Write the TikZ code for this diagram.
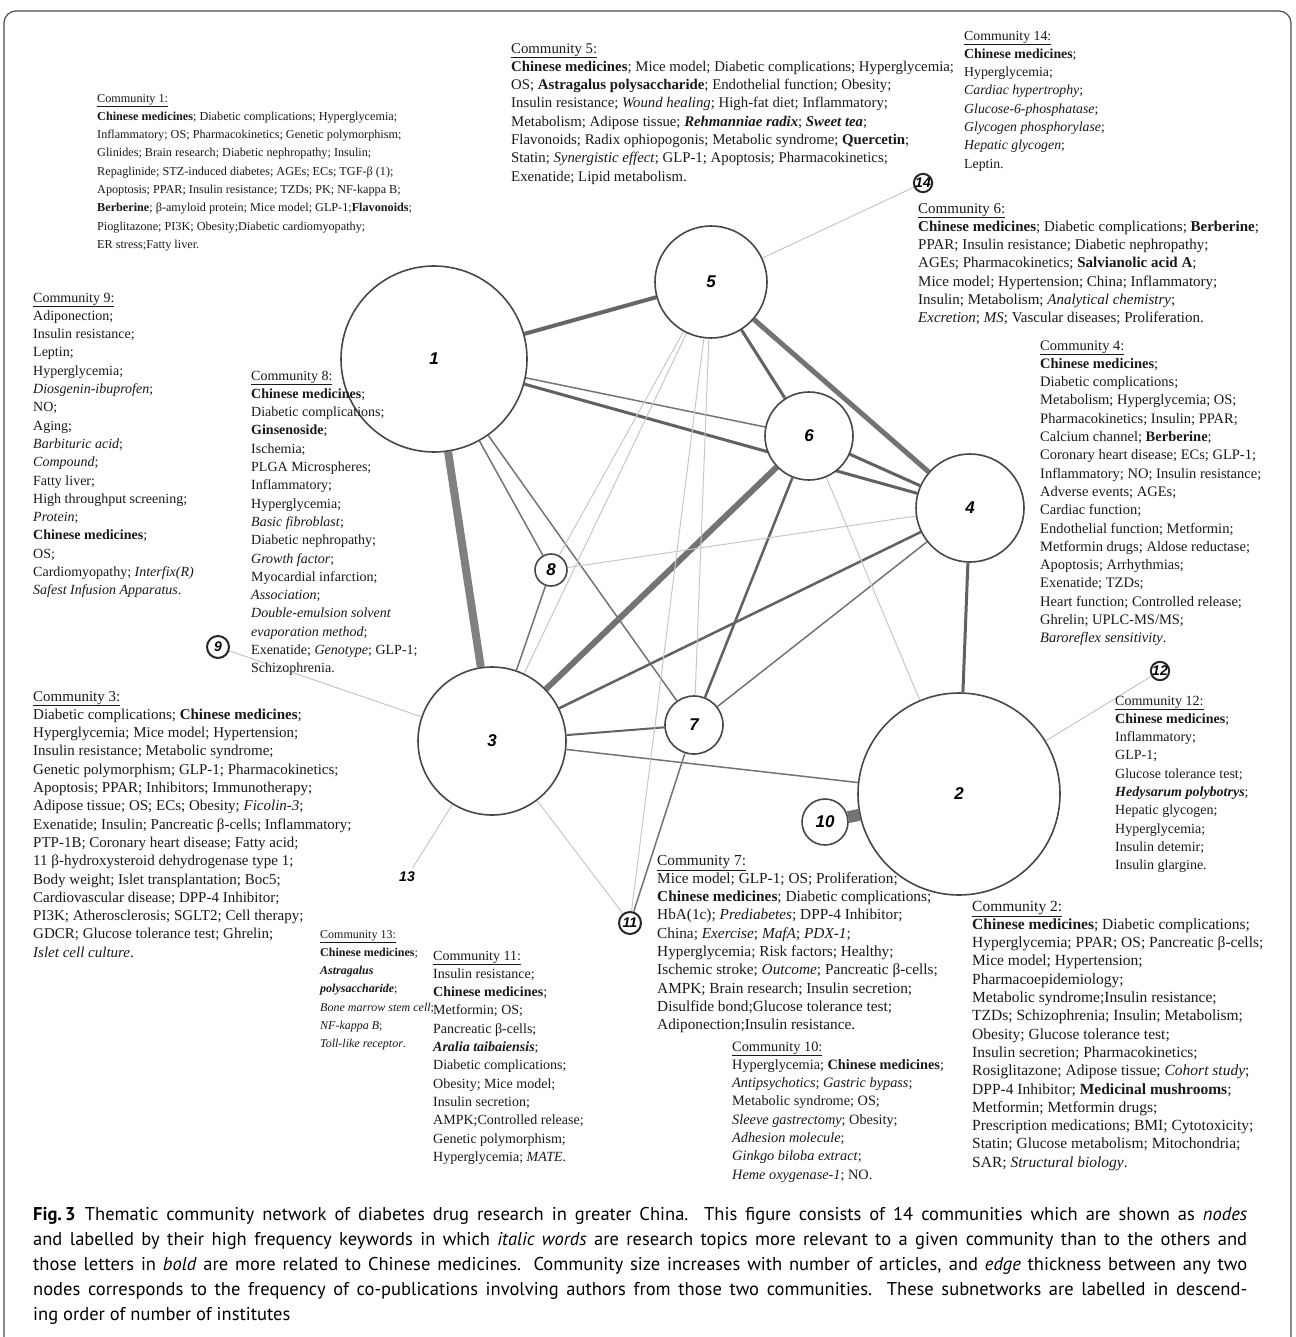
\documentclass[tikz,border=0pt]{standalone}
\usepackage{fontspec}
\setmainfont{Liberation Serif}
\newfontfamily\capfont{PT Sans}
\newfontfamily\numfont{Liberation Sans}
\usetikzlibrary{backgrounds}
\begin{document}
\begin{tikzpicture}[x=1pt,y=-1pt,
  comm/.style={circle, draw=black!72, line width=1.6pt, fill=white, inner sep=0pt, minimum size=#1,
    font=\numfont\bfseries\itshape\fontsize{17}{17}\selectfont},
  smallc/.style={circle, draw=black!85, line width=2pt, fill=white, inner sep=0pt, minimum size=#1,
    font=\numfont\bfseries\itshape\fontsize{14}{14}\selectfont},
  txt/.style={anchor=north west, align=left, inner sep=0pt, text=black!90,
    font=\fontsize{#1}{18.3}\selectfont},
  txt/.default=14,
  wA/.style={draw=black!50, line width=8pt},
  wB/.style={draw=black!55, line width=6pt},
  wC/.style={draw=black!55, line width=5pt},
  wD/.style={draw=black!60, line width=4pt},
  wE/.style={draw=black!62, line width=3pt},
  wF/.style={draw=black!62, line width=2.5pt},
  wG/.style={draw=black!62, line width=2pt},
  wH/.style={draw=black!55, line width=1.5pt},
  wL/.style={draw=black!22, line width=1pt},
]
\useasboundingbox (0,0) rectangle (1295,1337);
\draw[black!70, line width=1.2pt, rounded corners=12pt] (4,1350) -- (4,11) -- (1291,11) -- (1291,1350);

% community nodes
\node[comm=186pt] (n1) at (434,359) {1};
\node[comm=112pt] (n5) at (711,282) {5};
\node[comm=88pt] (n6) at (809,436) {6};
\node[comm=108pt] (n4) at (970,508) {4};
\node[comm=148pt] (n3) at (492,741) {3};
\node[comm=58pt] (n7) at (694,725) {7};
\node[comm=202pt] (n2) at (959,794) {2};
\node[comm=46pt] (n10) at (825,822) {10};
\node[comm=32pt] (n8) at (551,570) {8};
\node[smallc=22pt] (n9) at (218,647) {9};
\node[smallc=22pt] (n11) at (630,923) {11};
\node[smallc=18pt] (n12) at (1160,671) {12};
\node[smallc=16pt, draw=none, fill=none] (n13) at (407,877) {13};
\node[smallc=18pt] (n14) at (923,183) {14};

\begin{pgfonlayer}{background}
\draw[wA] (n1) -- (n3);
\draw[wB] (n6) -- (n3);
\draw[draw=black!55, line width=12pt] (n10) -- (n2);
\draw[wC] (n5) -- (n4);
\draw[wD] (n1) -- (n5);
\draw[wE] (n5) -- (n6);
\draw[wE] (n6) -- (n4);
\draw[wE] (n1) -- (n4);
\draw[wE] (n4) -- (n2);
\draw[wF] (n4) -- (n3);
\draw[wF] (n6) -- (n7);
\draw[wG] (n3) -- (n7);
\draw[wH] (n1) -- (n6);
\draw[wH] (n1) -- (n8);
\draw[wH] (n1) -- (n7);
\draw[wH] (n8) -- (n3);
\draw[wH] (n3) -- (n2);
\draw[wH] (n4) -- (n7);
\draw[wH] (n7) -- (n11);
\draw[wL] (n5) -- (n8);
\draw[wL] (n5) -- (n3);
\draw[wL] (n5) -- (n11);
\draw[wL] (n5) -- (n7);
\draw[wL] (n5) -- (n14);
\draw[wL] (n6) -- (n2);
\draw[wL] (n8) -- (n4);
\draw[wL] (n3) -- (n9);
\draw[wL] (n3) -- (n13);
\draw[wL] (n3) -- (n11);
\draw[wL] (n2) -- (n12);
\end{pgfonlayer}

% text blocks
\node[txt=12.2] (c1) at (97,89) {\strut\underline{Community 1:}\\
\textbf{Chinese medicines}; Diabetic complications; Hyperglycemia;\\
Inflammatory; OS; Pharmacokinetics; Genetic polymorphism;\\
Glinides; Brain research; Diabetic nephropathy; Insulin;\\
Repaglinide; STZ-induced diabetes; AGEs; ECs; TGF-β (1);\\
Apoptosis; PPAR; Insulin resistance; TZDs; PK; NF-kappa B;\\
\textbf{Berberine}; β-amyloid protein; Mice model; GLP-1;\textbf{Flavonoids};\\
Pioglitazone; PI3K; Obesity;Diabetic cardiomyopathy;\\
ER stress;Fatty liver.};

\node[txt=14.8] (c5) at (511,40) {\strut\underline{Community 5:}\\
\textbf{Chinese medicines}; Mice model; Diabetic complications; Hyperglycemia;\\
OS; \textbf{Astragalus polysaccharide}; Endothelial function; Obesity;\\
Insulin resistance; \textit{Wound healing}; High-fat diet; Inflammatory;\\
Metabolism; Adipose tissue; \textbf{\textit{Rehmanniae radix}}; \textbf{\textit{Sweet tea}};\\
Flavonoids; Radix ophiopogonis; Metabolic syndrome; \textbf{Quercetin};\\
Statin; \textit{Synergistic effect}; GLP-1; Apoptosis; Pharmacokinetics;\\
Exenatide; Lipid metabolism.};

\node[txt=13.8] (c14) at (964,27) {\strut\underline{Community 14:}\\
\textbf{Chinese medicines};\\
Hyperglycemia;\\
\textit{Cardiac hypertrophy};\\
\textit{Glucose-6-phosphatase};\\
\textit{Glycogen phosphorylase};\\
\textit{Hepatic glycogen};\\
Leptin.};

\node[txt=15] (c6) at (918,200) {\strut\underline{Community 6:}\\
\textbf{Chinese medicines}; Diabetic complications; \textbf{Berberine};\\
PPAR; Insulin resistance; Diabetic nephropathy;\\
AGEs; Pharmacokinetics; \textbf{Salvianolic acid A};\\
Mice model; Hypertension; China; Inflammatory;\\
Insulin; Metabolism; \textit{Analytical chemistry};\\
\textit{Excretion}; \textit{MS}; Vascular diseases; Proliferation.};

\node[txt] (c9) at (33,289) {\strut\underline{Community 9:}\\
Adiponection;\\
Insulin resistance;\\
Leptin;\\
Hyperglycemia;\\
\textit{Diosgenin-ibuprofen};\\
NO;\\
Aging;\\
\textit{Barbituric acid};\\
\textit{Compound};\\
Fatty liver;\\
High throughput screening;\\
\textit{Protein};\\
\textbf{Chinese medicines};\\
OS;\\
Cardiomyopathy; \textit{Interfix(R)}\\
\textit{Safest Infusion Apparatus}.};

\node[txt] (c8) at (251,367) {\strut\underline{Community 8:}\\
\textbf{Chinese medicines};\\
Diabetic complications;\\
\textbf{Ginsenoside};\\
Ischemia;\\
PLGA Microspheres;\\
Inflammatory;\\
Hyperglycemia;\\
\textit{Basic fibroblast};\\
Diabetic nephropathy;\\
\textit{Growth factor};\\
Myocardial infarction;\\
\textit{Association};\\
\textit{Double-emulsion solvent}\\
\textit{evaporation method};\\
Exenatide; \textit{Genotype}; GLP-1;\\
Schizophrenia.};

\node[txt=14.5] (c4) at (1040,337) {\strut\underline{Community 4:}\\
\textbf{Chinese medicines};\\
Diabetic complications;\\
Metabolism; Hyperglycemia; OS;\\
Pharmacokinetics; Insulin; PPAR;\\
Calcium channel; \textbf{Berberine};\\
Coronary heart disease; ECs; GLP-1;\\
Inflammatory; NO; Insulin resistance;\\
Adverse events; AGEs;\\
Cardiac function;\\
Endothelial function; Metformin;\\
Metformin drugs; Aldose reductase;\\
Apoptosis; Arrhythmias;\\
Exenatide; TZDs;\\
Heart function; Controlled release;\\
Ghrelin; UPLC-MS/MS;\\
\textit{Baroreflex sensitivity}.};

\node[txt=15] (c3) at (33,688) {\strut\underline{Community 3:}\\
Diabetic complications; \textbf{Chinese medicines};\\
Hyperglycemia; Mice model; Hypertension;\\
Insulin resistance; Metabolic syndrome;\\
Genetic polymorphism; GLP-1; Pharmacokinetics;\\
Apoptosis; PPAR; Inhibitors; Immunotherapy;\\
Adipose tissue; OS; ECs; Obesity; \textit{Ficolin-3};\\
Exenatide; Insulin; Pancreatic β-cells; Inflammatory;\\
PTP-1B; Coronary heart disease; Fatty acid;\\
11 β-hydroxysteroid dehydrogenase type 1;\\
Body weight; Islet transplantation; Boc5;\\
Cardiovascular disease; DPP-4 Inhibitor;\\
PI3K; Atherosclerosis; SGLT2; Cell therapy;\\
GDCR; Glucose tolerance test; Ghrelin;\\
\textit{Islet cell culture}.};

\node[txt] (c12) at (1115,692) {\strut\underline{Community 12:}\\
\textbf{Chinese medicines};\\
Inflammatory;\\
GLP-1;\\
Glucose tolerance test;\\
\textbf{\textit{Hedysarum polybotrys}};\\
Hepatic glycogen;\\
Hyperglycemia;\\
Insulin detemir;\\
Insulin glargine.};

\node[txt=15.3] (c7) at (657,852) {\strut\underline{Community 7:}\\
Mice model; GLP-1; OS; Proliferation;\\
\textbf{Chinese medicines}; Diabetic complications;\\
HbA(1c); \textit{Prediabetes}; DPP-4 Inhibitor;\\
China; \textit{Exercise}; \textit{MafA}; \textit{PDX-1};\\
Hyperglycemia; Risk factors; Healthy;\\
Ischemic stroke; \textit{Outcome}; Pancreatic β-cells;\\
AMPK; Brain research; Insulin secretion;\\
Disulfide bond;Glucose tolerance test;\\
Adiponection;Insulin resistance.};

\node[txt=15.5] (c2) at (972,898) {\strut\underline{Community 2:}\\
\textbf{Chinese medicines}; Diabetic complications;\\
Hyperglycemia; PPAR; OS; Pancreatic β-cells;\\
Mice model; Hypertension;\\
Pharmacoepidemiology;\\
Metabolic syndrome;Insulin resistance;\\
TZDs; Schizophrenia; Insulin; Metabolism;\\
Obesity; Glucose tolerance test;\\
Insulin secretion; Pharmacokinetics;\\
Rosiglitazone; Adipose tissue; \textit{Cohort study};\\
DPP-4 Inhibitor; \textbf{Medicinal mushrooms};\\
Metformin; Metformin drugs;\\
Prescription medications; BMI; Cytotoxicity;\\
Statin; Glucose metabolism; Mitochondria;\\
SAR; \textit{Structural biology}.};

\node[txt=12] (c13) at (320,925) {\strut\underline{Community 13:}\\
\textbf{Chinese medicines};\\
\textbf{\textit{Astragalus}}\\
\textbf{\textit{polysaccharide}};\\
\textit{Bone marrow stem cell};\\
\textit{NF-kappa B};\\
\textit{Toll-like receptor}.};

\node[txt] (c11) at (433,947) {\strut\underline{Community 11:}\\
Insulin resistance;\\
\textbf{Chinese medicines};\\
Metformin; OS;\\
Pancreatic β-cells;\\
\textbf{\textit{Aralia taibaiensis}};\\
Diabetic complications;\\
Obesity; Mice model;\\
Insulin secretion;\\
AMPK;Controlled release;\\
Genetic polymorphism;\\
Hyperglycemia; \textit{MATE}.};

\node[txt=14.3] (c10) at (732,1038) {\strut\underline{Community 10:}\\
Hyperglycemia; \textbf{Chinese medicines};\\
\textit{Antipsychotics}; \textit{Gastric bypass};\\
Metabolic syndrome; OS;\\
\textit{Sleeve gastrectomy}; Obesity;\\
\textit{Adhesion molecule};\\
\textit{Ginkgo biloba extract};\\
\textit{Heme oxygenase-1}; NO.};

\node[anchor=north west, inner sep=0pt, text width=1214pt, align=justify,
  font=\capfont\fontsize{18.5}{25}\selectfont] (cap) at (33,1203) {\strut\textbf{Fig.\,3}\enspace Thematic community network of diabetes drug research in greater China. This figure consists of 14 communities which are shown as \textit{nodes}\linebreak
and labelled by their high frequency keywords in which \textit{italic words} are research topics more relevant to a given community than to the others and\linebreak
those letters in \textit{bold} are more related to Chinese medicines. Community size increases with number of articles, and \textit{edge} thickness between any two\linebreak
nodes corresponds to the frequency of co-publications involving authors from those two communities. These subnetworks are labelled in descend-\linebreak
ing order of number of institutes};
\end{tikzpicture}
\end{document}
